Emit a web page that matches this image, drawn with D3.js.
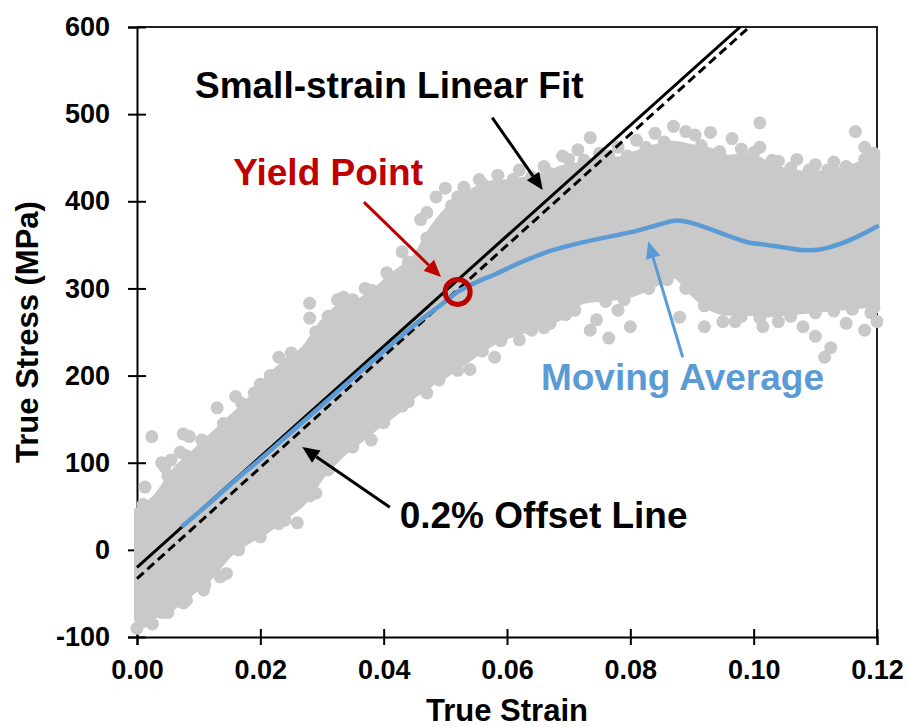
<!DOCTYPE html>
<html>
<head>
<meta charset="utf-8">
<title>True Stress vs True Strain</title>
<script src="https://cdn.jsdelivr.net/npm/d3@7"></script>
<style>
  body { margin: 0; background: #fff; }
  svg text { font-family: "Liberation Sans", Arial, sans-serif; font-weight: bold; }
</style>
</head>
<body>
<div id="chart"></div>
<script>
// axis ticks
var strainTicks = [0, 0.02, 0.04, 0.06, 0.08, 0.10, 0.12];
var stressTicks = [-100, 0, 100, 200, 300, 400, 500, 600];

// dense core of the raw data cloud
var cloudStrain = [0.000, 0.003, 0.006, 0.009, 0.012, 0.015, 0.018, 0.021, 0.024, 0.027,
                   0.030, 0.033, 0.036, 0.039, 0.042, 0.045, 0.048, 0.051, 0.054, 0.057,
                   0.060, 0.063, 0.066, 0.069, 0.072, 0.075, 0.078, 0.081, 0.084, 0.087,
                   0.090, 0.093, 0.096, 0.099, 0.102, 0.105, 0.108, 0.111, 0.114, 0.117, 0.120];
var cloudLow = [-80, -75, -65, -48, -30, -5, 10, 22, 38, 55,
                85, 108, 125, 142, 158, 178, 192, 205, 220, 235,
                245, 252, 260, 268, 285, 288, 290, 295, 305, 315,
                295, 278, 272, 272, 270, 272, 274, 276, 278, 280, 282];
var cloudHigh = [45, 60, 90, 110, 130, 150, 170, 195, 215, 230,
                 260, 280, 285, 300, 318, 335, 370, 395, 410, 420,
                 422, 425, 430, 438, 442, 448, 448, 455, 462, 466,
                 462, 458, 450, 452, 444, 435, 432, 432, 436, 442, 452];

// individual points around the edge of the cloud
var cloudPoints = [
  // upper side and outliers above
  [0.0013, 72], [0.0024, 130], [0.0040, 100], [0.0045, 95], [0.0055, 103],
  [0.0070, 112], [0.0075, 133], [0.0085, 130], [0.0105, 126], [0.0130, 163], [0.0160, 176],
  [0.0190, 180], [0.0216, 200], [0.0230, 221], [0.0280, 283], [0.0280, 266], [0.0300, 250],
  [0.0325, 287], [0.0335, 290], [0.0350, 287], [0.0370, 300], [0.0405, 318], [0.0430, 342],
  [0.0460, 329], [0.0460, 379], [0.0470, 387], [0.0485, 405], [0.0500, 415], [0.0510, 395],
  [0.0530, 416], [0.0555, 425], [0.0585, 430], [0.0620, 436], [0.0660, 440], [0.0690, 452],
  [0.0700, 448], [0.0715, 459], [0.0735, 473], [0.0750, 455], [0.0780, 462], [0.0810, 470],
  [0.0840, 478], [0.0870, 486], [0.0890, 480], [0.0905, 476], [0.0930, 479], [0.0965, 472],
  [0.1010, 490], [0.1010, 462], [0.0980, 460], [0.1040, 446], [0.1070, 448], [0.1100, 442],
  [0.1130, 445], [0.1165, 480], [0.1180, 462], [0.1195, 455],
  [0.0010, 52], [0.0050, 85], [0.0080, 108], [0.0110, 124], [0.0140, 145], [0.0170, 168],
  [0.0200, 190], [0.0250, 226], [0.0290, 250], [0.0310, 268], [0.0340, 283], [0.0380, 298],
  [0.0410, 312], [0.0440, 330], [0.0470, 358], [0.0520, 405], [0.0560, 420], [0.0610, 425],
  [0.0640, 428], [0.0670, 432], [0.0725, 447], [0.0765, 452], [0.0795, 452], [0.0825, 462],
  [0.0855, 468], [0.0915, 464], [0.0945, 457], [0.1000, 456], [0.1030, 447], [0.1060, 438],
  [0.1090, 436], [0.1120, 436], [0.1150, 440], [0.1180, 448], [0.1195, 450],
  // lower side and outliers below
  [0.0000, -90], [0.0075, -61], [0.0108, -46], [0.0125, -15], [0.0135, -31], [0.0145, -27],
  [0.0140, -6], [0.0040, -72], [0.0025, -85], [0.0195, 29], [0.0225, 38], [0.0240, 34],
  [0.0260, 31], [0.0265, 61], [0.0290, 65], [0.0330, 118], [0.0380, 126], [0.0430, 165],
  [0.0470, 180], [0.0540, 207], [0.0580, 221], [0.0620, 241], [0.0690, 283], [0.0695, 270],
  [0.0660, 255], [0.0735, 252], [0.0765, 243], [0.0745, 264], [0.0800, 256], [0.0780, 275],
  [0.0880, 267], [0.0920, 256], [0.0950, 262], [0.0970, 262], [0.1015, 256], [0.1040, 262],
  [0.1080, 256], [0.1100, 245], [0.1125, 232], [0.1115, 221], [0.1150, 260], [0.1180, 252],
  [0.1200, 262], [0.1190, 272],
  [0.0010, -82], [0.0050, -72], [0.0080, -58], [0.0110, -40], [0.0165, 0], [0.0200, 15],
  [0.0230, 30], [0.0280, 62], [0.0310, 92], [0.0350, 118], [0.0400, 146], [0.0440, 170],
  [0.0490, 195], [0.0520, 206], [0.0560, 228], [0.0590, 240], [0.0640, 252], [0.0670, 260],
  [0.0710, 275], [0.0760, 285], [0.0790, 287], [0.0830, 300], [0.0860, 310], [0.0890, 300],
  [0.0920, 280], [0.0980, 268], [0.1010, 266], [0.1060, 268], [0.1100, 272], [0.1130, 274],
  [0.1160, 276], [0.1195, 278]
];

// fitted lines, end points
var fitLine = [[0, -20], [0.0978, 600]];
var offsetLine = [[0, -33], [0.0993, 600]];

// moving average
var avgStrain = [0.0075, 0.012, 0.016, 0.020, 0.025, 0.030, 0.035, 0.040, 0.045, 0.050,
                 0.052, 0.055, 0.058, 0.061, 0.064, 0.067, 0.070, 0.073, 0.077, 0.081,
                 0.085, 0.0876, 0.090, 0.093, 0.096, 0.099, 0.102, 0.105, 0.108, 0.111,
                 0.114, 0.117, 0.120];
var avgStress = [28, 55, 80, 104, 135, 166, 197, 228, 258, 285,
                 296, 307, 316, 326, 335, 343, 349, 354, 360, 366,
                 374, 378, 375, 368, 360, 353, 350, 347, 344, 345,
                 351, 360, 371];

var yieldPoint = [0.052, 296];

// annotations (text start / baseline and arrows, in data units)
var labels = [
  {text: "Small-strain Linear Fit", x: 0.0094, y: 518, color: "#000000"},
  {text: "Yield Point", x: 0.0156, y: 419, color: "#C00000"},
  {text: "Moving Average", x: 0.0655, y: 183, color: "#5B9BD5"},
  {text: "0.2% Offset Line", x: 0.0426, y: 25, color: "#000000"}
];
var arrows = [
  {from: [0.0576, 496], to: [0.0658, 413], color: "#000000"},
  {from: [0.0368, 399], to: [0.0493, 313], color: "#C00000"},
  {from: [0.0410, 49], to: [0.0268, 118], color: "#000000"},
  {from: [0.0885, 221], to: [0.0829, 354], color: "#5B9BD5"}
];

var width = 909, height = 727;
var margin = {left: 137, right: 32, top: 27, bottom: 90};

var svg = d3.select("#chart").append("svg")
  .attr("width", width)
  .attr("height", height)
  .style("background", "#fff");

var x = d3.scaleLinear().domain([0, 0.12]).range([margin.left, width - margin.right]);
var y = d3.scaleLinear().domain([-100, 600]).range([height - margin.bottom, margin.top]);

svg.append("clipPath").attr("id", "plotclip")
  .append("rect")
  .attr("x", x(0) - 10).attr("y", y(600))
  .attr("width", x(0.12) - x(0) + 16).attr("height", y(-100) - y(600));

// frame (top and right)
svg.append("path")
  .attr("d", "M" + x(0) + "," + y(600) + "H" + x(0.12) + "V" + y(-100))
  .attr("fill", "none")
  .attr("stroke", "#222")
  .attr("stroke-width", 2);

// axes
var xAxis = svg.append("g")
  .attr("transform", "translate(0," + y(-100) + ")")
  .call(d3.axisBottom(x).tickValues(strainTicks).tickFormat(d3.format(".2f"))
    .tickSizeOuter(0).tickSize(8).tickPadding(15));
xAxis.selectAll(".tick line").attr("y1", -8).attr("y2", 8).attr("stroke-width", 2);
xAxis.select(".domain").attr("stroke-width", 2);
xAxis.selectAll("text").attr("font-size", 27).attr("fill", "#000");

var yAxis = svg.append("g")
  .attr("transform", "translate(" + x(0) + ",0)")
  .call(d3.axisLeft(y).tickValues(stressTicks).tickFormat(function(d){ return String(d); })
    .tickSizeOuter(0).tickSize(9).tickPadding(18));
yAxis.selectAll(".tick line").attr("x1", 9).attr("x2", -9).attr("stroke-width", 2);
yAxis.select(".domain").attr("stroke-width", 2);
yAxis.selectAll("text").attr("font-size", 27).attr("fill", "#000");

// axis titles
svg.append("text")
  .attr("x", (x(0) + x(0.12)) / 2)
  .attr("y", 721)
  .attr("text-anchor", "middle")
  .attr("font-size", 31)
  .text("True Strain");

svg.append("text")
  .attr("transform", "translate(38," + (y(600) + y(-100)) / 2 + ") rotate(-90)")
  .attr("text-anchor", "middle")
  .attr("font-size", 31)
  .text("True Stress (MPa)");

// data cloud
var plot = svg.append("g").attr("clip-path", "url(#plotclip)");
var grey = "#C9C9C9";

var cloud = cloudStrain.map(function(s, i){ return {s: s, lo: cloudLow[i], hi: cloudHigh[i]}; });
plot.append("path")
  .datum(cloud)
  .attr("d", d3.area()
    .x(function(d){ return x(d.s); })
    .y0(function(d){ return y(d.lo); })
    .y1(function(d){ return y(d.hi); })
    .curve(d3.curveMonotoneX))
  .attr("fill", grey)
  .attr("stroke", grey)
  .attr("stroke-width", 6)
  .attr("stroke-linejoin", "round");

plot.selectAll("circle.pt")
  .data(cloudPoints)
  .enter()
  .append("circle")
  .attr("class", "pt")
  .attr("cx", function(d){ return x(d[0]); })
  .attr("cy", function(d){ return y(d[1]); })
  .attr("r", 6.5)
  .attr("fill", grey);

// fit lines
var lineGen = d3.line().x(function(d){ return x(d[0]); }).y(function(d){ return y(d[1]); });
plot.append("path").datum(fitLine).attr("d", lineGen)
  .attr("stroke", "#000").attr("stroke-width", 3).attr("fill", "none");
plot.append("path").datum(offsetLine).attr("d", lineGen)
  .attr("stroke", "#000").attr("stroke-width", 3).attr("fill", "none")
  .attr("stroke-dasharray", "9,5");

// moving average
var avg = avgStrain.map(function(s, i){ return [s, avgStress[i]]; });
plot.append("path").datum(avg)
  .attr("d", lineGen.curve(d3.curveCatmullRom))
  .attr("stroke", "#5B9BD5").attr("stroke-width", 4.5).attr("fill", "none")
  .attr("stroke-linecap", "round");

// yield point
svg.append("circle")
  .attr("cx", x(yieldPoint[0]))
  .attr("cy", y(yieldPoint[1]))
  .attr("r", 12.5)
  .attr("fill", "none")
  .attr("stroke", "#C00000")
  .attr("stroke-width", 5);

// arrows
arrows.forEach(function(a){
  var x1 = x(a.from[0]), y1 = y(a.from[1]), x2 = x(a.to[0]), y2 = y(a.to[1]);
  var ang = Math.atan2(y2 - y1, x2 - x1);
  var len = 17, half = 7.5;
  var bx = x2 - len * Math.cos(ang), by = y2 - len * Math.sin(ang);
  svg.append("line")
    .attr("x1", x1).attr("y1", y1).attr("x2", bx).attr("y2", by)
    .attr("stroke", a.color).attr("stroke-width", 3);
  svg.append("path")
    .attr("d", "M" + x2 + "," + y2 +
      "L" + (bx + half * Math.sin(ang)) + "," + (by - half * Math.cos(ang)) +
      "L" + (bx - half * Math.sin(ang)) + "," + (by + half * Math.cos(ang)) + "Z")
    .attr("fill", a.color);
});

// labels
svg.selectAll("text.note")
  .data(labels)
  .enter()
  .append("text")
  .attr("class", "note")
  .attr("x", function(d){ return x(d.x); })
  .attr("y", function(d){ return y(d.y); })
  .attr("font-size", 37)
  .attr("fill", function(d){ return d.color; })
  .text(function(d){ return d.text; });
</script>
</body>
</html>
